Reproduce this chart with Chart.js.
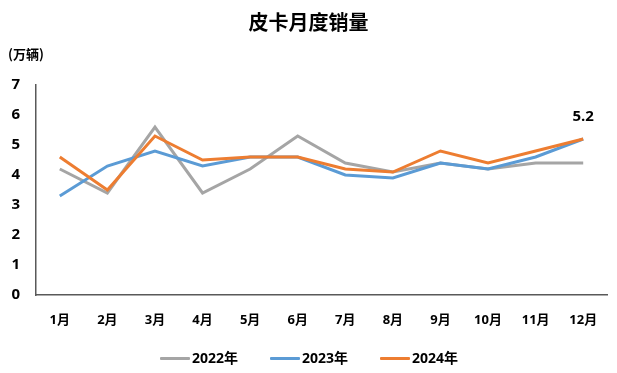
<!DOCTYPE html>
<html>
<head>
<meta charset="utf-8">
<script src="https://cdn.jsdelivr.net/npm/chart.js@4.4.1/dist/chart.umd.min.js"></script>
<style>
    html, body { margin: 0; padding: 0; background: #fff; }
    #wrap { position: relative; width: 617px; height: 373px; font-family: "Open Sans", "Noto Sans CJK SC", sans-serif; color: #000; }
    #wrap canvas { position: absolute; left: 0; top: 0; }
    .chart-title { position: absolute; left: 0; width: 617px; top: 8px; text-align: center; font-size: 20px; font-weight: bold; line-height: 28px; font-family: "Noto Sans CJK SC", sans-serif; }
    .unit { position: absolute; left: 8px; top: 45px; font-size: 13px; font-weight: bold; line-height: 18px; font-family: "Noto Sans CJK SC", sans-serif; }
    #legend { position: absolute; left: 160px; top: 348px; display: flex; align-items: center; font-size: 14px; font-weight: bold; line-height: 20px; }
    #legend .item { display: flex; align-items: center; margin-right: 32px; }
    #legend .swatch { width: 30px; height: 3px; margin-right: 2px; border-radius: 1px; }
</style>
</head>
<body>
<div id="wrap">
    <canvas id="pickupChart" width="617" height="373"></canvas>
    <div class="chart-title">皮卡月度销量</div>
    <div class="unit">(万辆)</div>
    <div id="legend"></div>
</div>
<script>
const months = ['1月', '2月', '3月', '4月', '5月', '6月', '7月', '8月', '9月', '10月', '11月', '12月'];
const sales2022 = [4.2, 3.4, 5.6, 3.4, 4.2, 5.3, 4.4, 4.1, 4.4, 4.2, 4.4, 4.4];
const sales2023 = [3.3, 4.3, 4.8, 4.3, 4.6, 4.6, 4.0, 3.9, 4.4, 4.2, 4.6, 5.2];
const sales2024 = [4.6, 3.5, 5.3, 4.5, 4.6, 4.6, 4.2, 4.1, 4.8, 4.4, 4.8, 5.2];
const seriesNames = ['2022年', '2023年', '2024年'];
const seriesColors = ['#A5A5A5', '#5B9BD5', '#ED7D31'];
const yTicks = [0, 1, 2, 3, 4, 5, 6, 7];

const fontFamily = '"Open Sans", "Noto Sans CJK SC", sans-serif';

// label above the last 2024 point
const lastLabel = {
    id: 'lastLabel',
    afterDatasetsDraw(chart) {
        const meta = chart.getDatasetMeta(2);
        const pt = meta.data[meta.data.length - 1];
        const ctx = chart.ctx;
        ctx.save();
        ctx.font = 'bold 15px ' + fontFamily;
        ctx.fillStyle = '#000';
        ctx.textAlign = 'center';
        ctx.textBaseline = 'middle';
        ctx.fillText(sales2024[sales2024.length - 1].toFixed(1), pt.x, pt.y - 22);
        ctx.restore();
    }
};

function makeSet(i, data) {
    return {
        label: seriesNames[i],
        data: data,
        borderColor: seriesColors[i],
        backgroundColor: seriesColors[i],
        borderWidth: 3,
        pointRadius: 0,
        tension: 0,
        order: 3 - i  // later years drawn on top
    };
}

const chart = new Chart(document.getElementById('pickupChart'), {
    type: 'line',
    data: {
        labels: months,
        datasets: [
            makeSet(0, sales2022),
            makeSet(1, sales2023),
            makeSet(2, sales2024)
        ]
    },
    options: {
        responsive: false,
        animation: false,
        layout: { padding: { left: 0, right: 10, top: 85, bottom: 33 } },
        scales: {
            x: {
                offset: true,
                grid: { display: false, drawTicks: false },
                border: { display: true, color: '#595959', width: 1.5 },
                ticks: {
                    padding: 17,
                    color: '#000',
                    font: { family: fontFamily, size: 13, weight: 'bold' }
                },
                afterFit(scale) { scale.height = 45; }
            },
            y: {
                min: 0,
                max: 7,
                afterBuildTicks(scale) { scale.ticks = yTicks.map(v => ({ value: v })); },
                grid: { display: false, drawTicks: false },
                border: { display: true, color: '#595959', width: 1.5 },
                ticks: {
                    padding: 16,
                    color: '#000',
                    font: { family: fontFamily, size: 15, weight: 'bold' }
                },
                afterFit(scale) { scale.width = 36; }
            }
        },
        plugins: {
            legend: { display: false },
            tooltip: { enabled: false }
        }
    },
    plugins: [lastLabel]
});

// html legend in dataset order
document.getElementById('legend').innerHTML = chart.data.datasets.map(ds => `
    <div class="item">
        <span class="swatch" style="background: ${ds.borderColor};"></span>
        <span>${ds.label}</span>
    </div>
`).join('');
</script>
</body>
</html>
